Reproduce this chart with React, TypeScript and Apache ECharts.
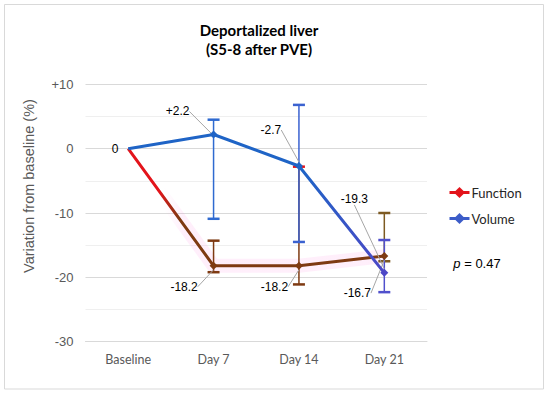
import React, { useEffect, useRef } from 'react';
import * as echarts from 'echarts';

// ---- data ----
const categories = ['Baseline', 'Day 7', 'Day 14', 'Day 21'];
const functionValues = [0, -18.2, -18.2, -16.7];
const volumeValues = [0, 2.2, -2.7, -19.3];
const functionErrLow = [null, -19.2, -21.1, -17.5];
const functionErrHigh = [null, -14.3, -2.8, -10.0];
const volumeErrLow = [null, -10.9, -14.5, -22.3];
const volumeErrHigh = [null, 4.5, 6.8, -14.2];
const functionLabels = ['', '-18.2', '-18.2', '-16.7'];
const volumeLabels = ['0', '+2.2', '-2.7', '-19.3'];
const yMin = -30;
const yMax = 10;
const yInterval = 10;
const legendNames = ['Function', 'Volume'];
const titleLines = ['Deportalized liver', '(S5-8 after PVE)'];
const yAxisTitle = 'Variation from baseline (%)';
const pValue = '0.47';

// ---- styles / layout ----
const FN_RED = '#E3141B';
const FN_BROWN = '#7E3A12';
const VOL_BLUE = '#1F64C6';
const VOL_PURPLE = '#4D47C6';
const fnErrColors = [FN_BROWN, FN_BROWN, FN_BROWN, '#7D5A22'];
const fnErrTopCapColors = [FN_BROWN, FN_BROWN, FN_RED, '#7D5A22'];
const volErrColors = [VOL_BLUE, '#2F6AD0', '#3B62D0', '#5050CC'];
const fnLabelOffsets = [[0, 0], [-29.5, 21], [-24.5, 21], [-27, 37]];
const volLabelOffsets = [[-13, 0], [-36, -23], [-28, -36], [-30, -74]];
const LABEL_FONT = '"Liberation Sans", Arial, sans-serif';
const CAL_FONT = 'Lato, "Open Sans", sans-serif';

function errData(lo: (number | null)[], hi: (number | null)[]) {
  const out: any[] = [];
  lo.forEach((l, i) => {
    if (l !== null && hi[i] !== null) out.push([i, l, hi[i]]);
  });
  return out;
}

function makeErrSeries(name: string, lo: any[], hi: any[], colors: string[], topColors: string[], z: number) {
  return {
    type: 'custom',
    name: name + ' err',
    z,
    silent: true,
    data: errData(lo, hi),
    encode: { x: 0, y: [1, 2] },
    renderItem: (params: any, api: any) => {
      const xi = api.value(0);
      const lo = api.value(1);
      const hi = api.value(2);
      const pHi = api.coord([xi, hi]);
      const pLo = api.coord([xi, lo]);
      const c = colors[xi];
      const tc = topColors[xi];
      const cw = 6;
      return {
        type: 'group',
        children: [
          { type: 'line', shape: { x1: pHi[0], y1: pHi[1], x2: pLo[0], y2: pLo[1] }, style: { stroke: c, lineWidth: 1.5 } },
          { type: 'line', shape: { x1: pHi[0] - cw, y1: pHi[1], x2: pHi[0] + cw, y2: pHi[1] }, style: { stroke: tc, lineWidth: 2.5 } },
          { type: 'line', shape: { x1: pLo[0] - cw, y1: pLo[1], x2: pLo[0] + cw, y2: pLo[1] }, style: { stroke: c, lineWidth: 2.5 } },
        ],
      };
    },
  };
}

function labelLayoutFor(offsets: number[][]) {
  return (params: any) => {
    const r = params.rect;
    const off = offsets[params.dataIndex] || [0, 0];
    const cx = r.x + r.width / 2;
    const cy = r.y + r.height / 2;
    return { x: cx + off[0], y: cy + off[1], align: 'center', verticalAlign: 'middle' };
  };
}

export default function App() {
  const ref = useRef<HTMLDivElement>(null);
  useEffect(() => {
    if (!ref.current) return;
    const chart = echarts.init(ref.current, null, { renderer: 'svg' });
    const fnData = functionValues.map((v, i) =>
      i === 0
        ? { value: v, symbolSize: 0.1, label: { show: false } }
        : { value: v, label: { formatter: functionLabels[i] } }
    );
    const volData = volumeValues.map((v, i) =>
      i === 0
        ? { value: v, symbolSize: 0.1, label: { formatter: volumeLabels[i] }, labelLine: { show: false } }
        : {
            value: v,
            label: { formatter: volumeLabels[i] },
            itemStyle: i === 3 ? { color: VOL_PURPLE } : undefined,
          }
    );
    const option: any = {
      animation: false,
      backgroundColor: '#ffffff',
      grid: { left: 85.5, right: 123, top: 84.3, bottom: 54.3 },
      xAxis: {
        type: 'category',
        data: categories,
        boundaryGap: true,
        axisLine: { show: true, onZero: false, lineStyle: { color: '#D9D9D9', width: 1 } },
        axisTick: { show: false },
        axisLabel: { color: '#595959', fontFamily: CAL_FONT, fontSize: 12.5, margin: 11 },
        splitLine: { show: false },
      },
      yAxis: {
        type: 'value',
        min: yMin,
        max: yMax,
        interval: yInterval,
        axisLine: { show: false },
        axisTick: { show: false },
        axisLabel: {
          color: '#595959',
          fontFamily: LABEL_FONT,
          fontSize: 13,
          margin: 12,
          formatter: (v: number) => (v > 0 ? '+' + v : String(v)),
        },
        splitLine: { show: true, lineStyle: { color: '#D9D9D9', width: 1 } },
        minorTick: { show: false, splitNumber: 2 },
        minorSplitLine: { show: true, lineStyle: { color: '#EFEFEF', width: 1 } },
      },
      legend: {
        orient: 'vertical',
        left: 443,
        top: 181,
        itemWidth: 20,
        itemHeight: 14,
        itemGap: 13,
        textStyle: { color: '#262626', fontFamily: CAL_FONT, fontSize: 13, padding: [0, 0, 0, -3] },
        data: [
          { name: legendNames[0], itemStyle: { color: FN_RED }, lineStyle: { color: FN_RED, width: 3 } },
          { name: legendNames[1], itemStyle: { color: '#3C5CC8' }, lineStyle: { color: '#3C5CC8', width: 3 } },
        ],
      },
      graphic: [
        {
          type: 'rect',
          silent: true,
          shape: { x: 4.5, y: 4.5, width: 539, height: 384.5 },
          style: { fill: 'none', stroke: '#D9D9D9', lineWidth: 1 },
        },
        {
          type: 'text',
          x: 259,
          y: 30,
          style: { text: titleLines[0], fill: '#000', font: 'bold 15px ' + CAL_FONT, textAlign: 'center', textVerticalAlign: 'middle' },
        },
        {
          type: 'text',
          x: 259,
          y: 49,
          style: { text: titleLines[1], fill: '#000', font: 'bold 15px ' + CAL_FONT, textAlign: 'center', textVerticalAlign: 'middle' },
        },
        {
          type: 'text',
          x: 29,
          y: 186,
          rotation: Math.PI / 2,
          style: { text: yAxisTitle, fill: '#595959', font: '14.5px ' + LABEL_FONT, textAlign: 'center', textVerticalAlign: 'middle' },
        },
        {
          type: 'text',
          x: 477,
          y: 263,
          style: {
            text: '{i|p} = ' + pValue,
            fill: '#000',
            font: '13px ' + LABEL_FONT,
            textAlign: 'center',
            textVerticalAlign: 'middle',
            rich: { i: { fontStyle: 'italic', font: 'italic 13px ' + LABEL_FONT, fill: '#000' } },
          },
        },
      ],
      series: [
        // faint pink glow behind function line
        {
          type: 'line',
          name: 'fn-glow',
          silent: true,
          z: 1,
          symbol: 'none',
          data: functionValues,
          lineStyle: {
            width: 14,
            color: {
              type: 'linear', x: 0, y: 0, x2: 1, y2: 0,
              colorStops: [
                { offset: 0, color: 'rgba(255,120,220,0)' },
                { offset: 0.14, color: 'rgba(255,120,220,0)' },
                { offset: 0.22, color: 'rgba(255,120,220,0.12)' },
                { offset: 1, color: 'rgba(255,120,220,0.12)' },
              ],
            },
          },
          tooltip: { show: false },
        },
        makeErrSeries('fn', functionErrLow, functionErrHigh, fnErrColors, fnErrTopCapColors, 2),
        makeErrSeries('vol', volumeErrLow, volumeErrHigh, volErrColors, volErrColors, 3),
        {
          type: 'line',
          name: legendNames[0],
          z: 4,
          data: fnData,
          symbol: 'diamond',
          symbolSize: 8,
          showAllSymbol: true,
          itemStyle: { color: FN_BROWN },
          lineStyle: {
            width: 3,
            color: {
              type: 'linear', x: 0, y: 0, x2: 1, y2: 0,
              colorStops: [
                { offset: 0, color: FN_RED },
                { offset: 0.12, color: FN_RED },
                { offset: 0.2, color: FN_BROWN },
                { offset: 1, color: FN_BROWN },
              ],
            },
          },
          label: { show: true, color: '#000', fontFamily: LABEL_FONT, fontSize: 12 },
          labelLine: { show: true, lineStyle: { color: '#A6A6A6', width: 1 } },
          labelLayout: labelLayoutFor(fnLabelOffsets),
        },
        {
          type: 'line',
          name: legendNames[1],
          z: 5,
          data: volData,
          symbol: 'diamond',
          symbolSize: 8,
          showAllSymbol: true,
          itemStyle: { color: VOL_BLUE },
          lineStyle: {
            width: 3,
            color: {
              type: 'linear', x: 0, y: 0, x2: 1, y2: 0,
              colorStops: [
                { offset: 0, color: VOL_BLUE },
                { offset: 0.68, color: VOL_BLUE },
                { offset: 1, color: VOL_PURPLE },
              ],
            },
          },
          label: { show: true, color: '#000', fontFamily: LABEL_FONT, fontSize: 12 },
          labelLine: { show: true, lineStyle: { color: '#A6A6A6', width: 1 } },
          labelLayout: labelLayoutFor(volLabelOffsets),
        },
      ],
    };
    chart.setOption(option);
    return () => chart.dispose();
  }, []);
  return (
    <div
      ref={ref}
      style={{ position: 'fixed', left: 0, top: 0, width: 550, height: 396, background: '#fff' }}
    />
  );
}
